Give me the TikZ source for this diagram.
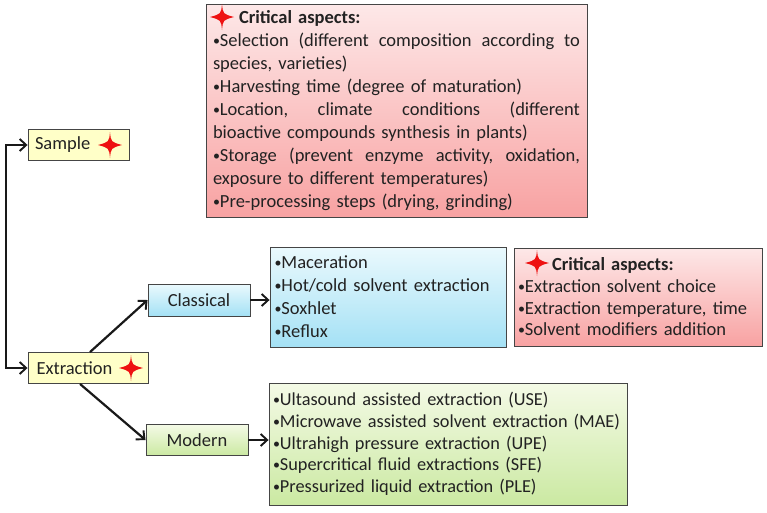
\documentclass[tikz,border=0pt]{standalone}
\usepackage{fontspec}
\setmainfont{Carlito}
\usetikzlibrary{arrows.meta}
\definecolor{bordergray}{HTML}{454545}
\definecolor{yelfill}{HTML}{FFFFC8}
\definecolor{redtop}{HTML}{FDE8E8}
\definecolor{redbot}{HTML}{F8A2A2}
\definecolor{bluetop}{HTML}{EAF9FD}
\definecolor{bluebot}{HTML}{A4E1F5}
\definecolor{greentop}{HTML}{F4FAE6}
\definecolor{greenbot}{HTML}{CBE9A2}
\definecolor{txt}{HTML}{222222}
\definecolor{starred}{HTML}{EE1111}
\newcommand{\bul}{{\fontsize{14}{14}\selectfont\raisebox{0.15ex}{\textbullet}}}
\newcommand{\J}{\hspace{0pt plus 1fil}}
\newcommand{\jline}[1]{\leavevmode\hbox to 367pt{#1}}
\tikzset{
  basebox/.style={draw=bordergray, line width=0.9pt, rectangle, inner sep=0pt, text=txt,
    font=\fontsize{18.5}{23}\selectfont},
  yelbox/.style={basebox, fill=yelfill, minimum height=31pt, align=left},
  redbox/.style={basebox, top color=redtop, bottom color=redbot},
  bluebox/.style={basebox, top color=bluetop, bottom color=bluebot},
  greenbox/.style={basebox, top color=greentop, bottom color=greenbot},
  arr/.style={-{Straight Barb[length=6.5pt,width=12pt,line width=1.9pt]}, line width=2.2pt, black!90},
  pics/redstar/.style={code={
    \fill[starred] (0,-13) .. controls (1,-3) .. (12,0) .. controls (1,3) .. (0,13)
      .. controls (-1,3) .. (-12,0) .. controls (-1,-3) .. cycle;}},
}
\begin{document}
\begin{tikzpicture}[x=1pt,y=-1pt]
\useasboundingbox (0,0) rectangle (767,512);

% Critical aspects box 1
\node[redbox, minimum width=381pt, minimum height=213pt, text width=367pt, align=left]
  (crit1) at (396.5,110.5) {%
  \hspace*{26pt}\textbf{Critical aspects:}\\
  \jline{\bul Selection \J{}(different \J{}composition \J{}according \J{}to}\\
  species, varieties)\\
  \bul Harvesting time (degree of maturation)\\
  \jline{\bul Location, \J{}climate \J{}conditions \J{}(different}\\
  bioactive compounds synthesis in plants)\\
  \jline{\bul Storage \J{}(prevent \J{}enzyme \J{}activity, \J{}oxidation,}\\
  exposure to different temperatures)\\
  \bul Pre-processing steps (drying, grinding)};
\pic (star1) at (222,17) {redstar};

% Sample & Extraction
\node[yelbox, minimum width=101pt, text width=94pt] (sample) at (78.5,145) {\hspace*{3.5pt}Sample};
\pic (star2) at (110,145) {redstar};
\node[yelbox, minimum width=120pt, text width=112pt] (extr) at (88,368) {\hspace*{4.5pt}Extraction};
\pic (star3) at (131,368) {redstar};

% Classical
\node[bluebox, minimum width=102pt, minimum height=32pt] (classical) at (199,300) {Classical};
\node[bluebox, minimum width=236pt, minimum height=100pt, text width=227pt, align=left]
  (classlist) at (388,297) {%
  \bul Maceration\\
  \bul Hot/cold solvent extraction\\
  \bul Soxhlet\\
  \bul Reflux};

% Critical aspects box 2
\node[redbox, minimum width=248pt, minimum height=98pt, text width=240pt, align=left,
  font=\fontsize{18.5}{21.7}\selectfont]
  (crit2) at (638,297) {%
  \hspace*{34pt}\textbf{Critical aspects:}\\
  \bul Extraction solvent choice\\
  \bul Extraction temperature, time\\
  \bul Solvent modifiers addition};
\pic (star4) at (537,263) {redstar};

% Modern
\node[greenbox, minimum width=102pt, minimum height=31pt] (modern) at (197,440) {Modern};
\node[greenbox, minimum width=358pt, minimum height=122pt, text width=350pt, align=left,
  font=\fontsize{18.3}{21.7}\selectfont]
  (modlist) at (448,444) {%
  \bul Ultasound assisted extraction (USE)\\
  \bul Microwave assisted solvent extraction (MAE)\\
  \bul Ultrahigh pressure extraction (UPE)\\
  \bul Supercritical fluid extractions (SFE)\\
  \bul Pressurized liquid extraction (PLE)};

% Connectors
\coordinate (bk) at (6,256);
\draw[arr] (bk) |- (sample.west);
\draw[arr] (bk) |- (extr.west);
\draw[arr] ([xshift=2pt]extr.north) -- (classical.west);
\draw[arr] ([xshift=-8pt]extr.south) -- (modern.west);
\draw[arr] (classical.east) -- (classlist.west |- classical.east);
\draw[arr] (modern.east) -- (modlist.west |- modern.east);
\end{tikzpicture}
\end{document}
